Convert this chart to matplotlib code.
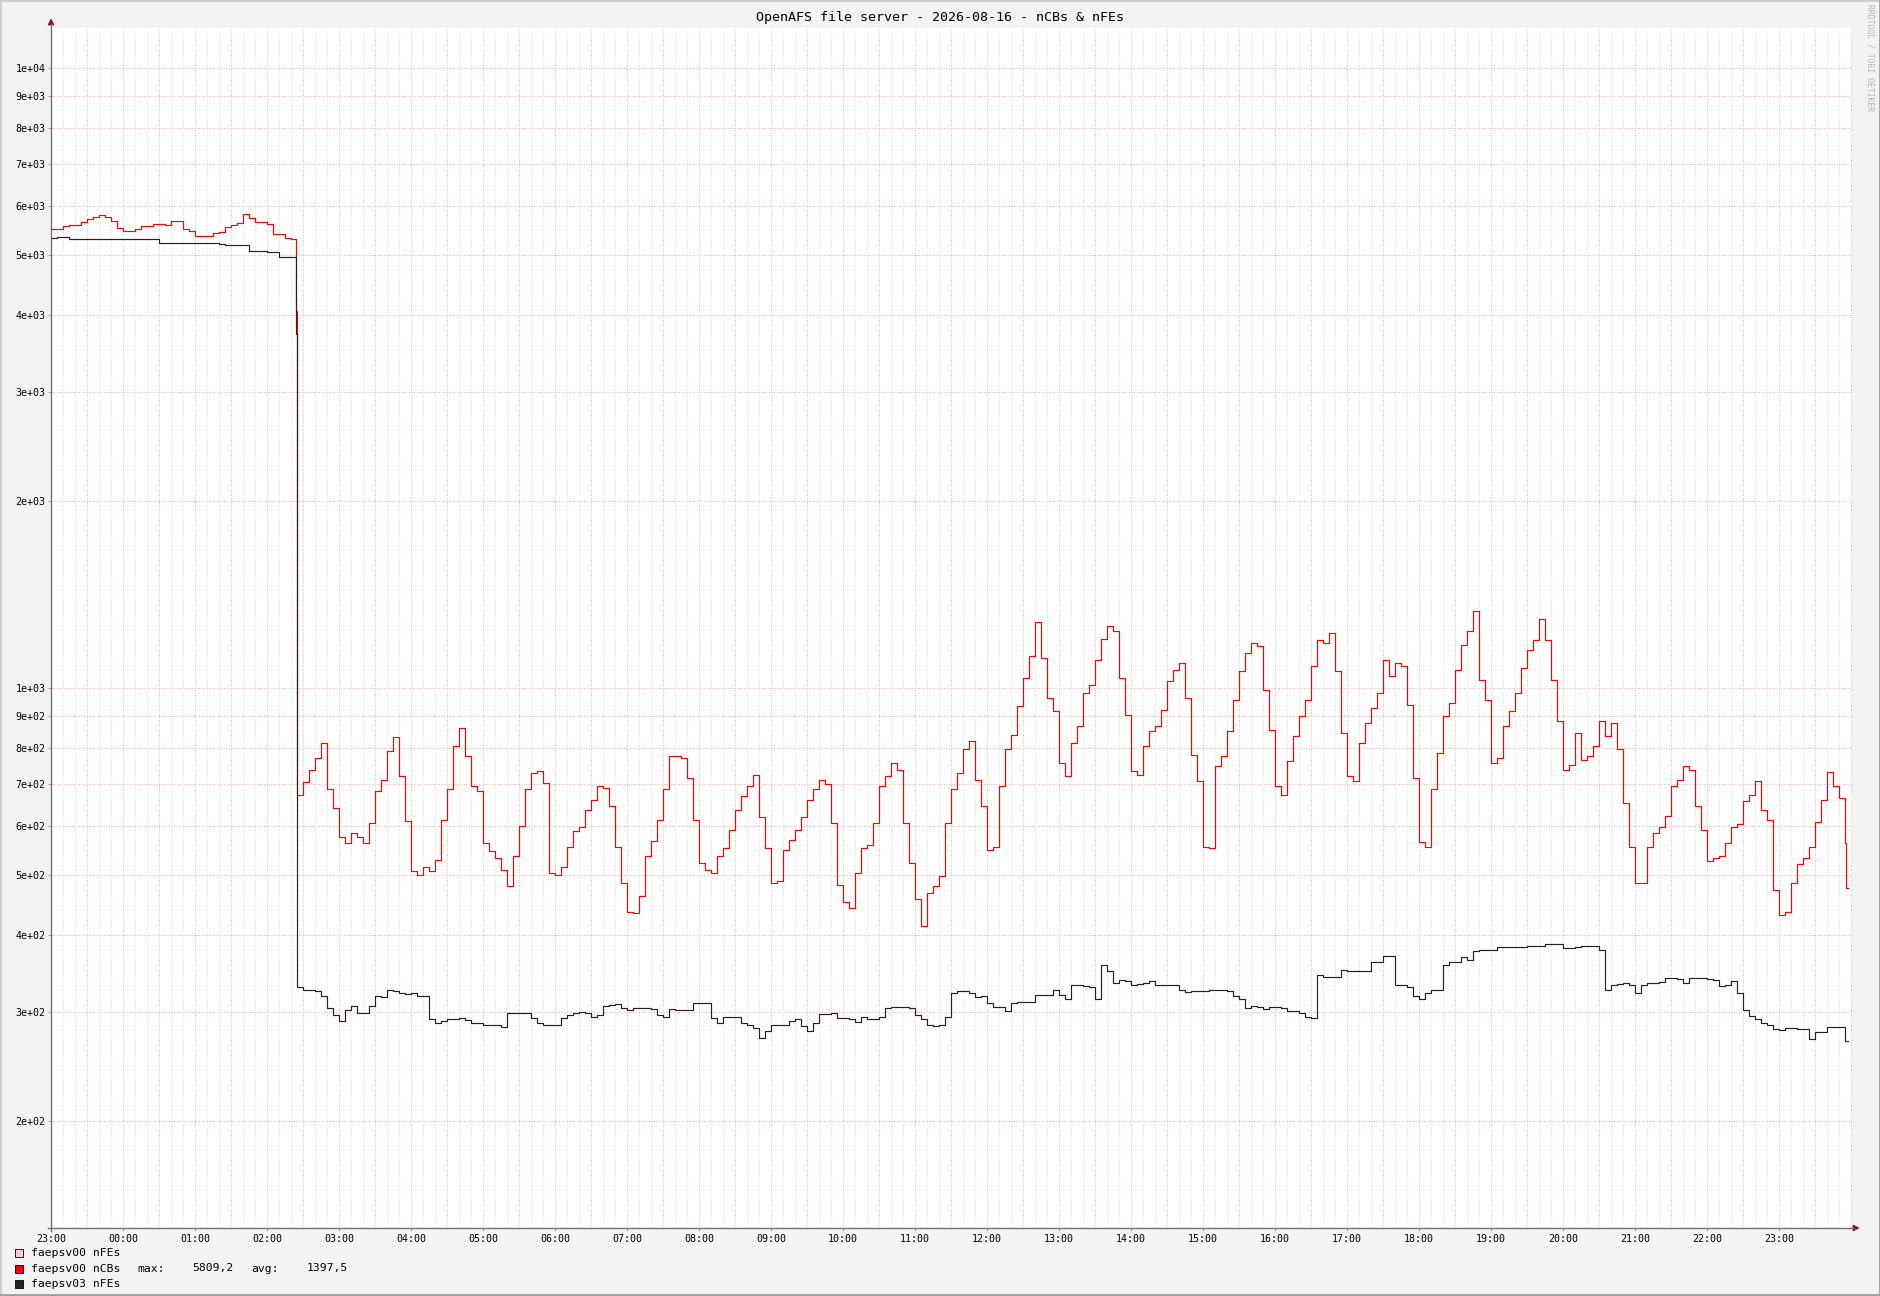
import numpy as np
import matplotlib.pyplot as plt
from matplotlib.lines import Line2D
from matplotlib.patches import Rectangle, Polygon

W, H = 1881, 1296
plt.rcParams['font.family'] = ['DejaVu Sans Mono']

title = 'OpenAFS file server - 2026-08-16 - nCBs & nFEs'
hour_labels = ['23:00', '00:00', '01:00', '02:00', '03:00', '04:00', '05:00', '06:00',
               '07:00', '08:00', '09:00', '10:00', '11:00', '12:00', '13:00', '14:00',
               '15:00', '16:00', '17:00', '18:00', '19:00', '20:00', '21:00', '22:00', '23:00']
y_ticks = [200, 300, 400, 500, 600, 700, 800, 900,
           1000, 2000, 3000, 4000, 5000, 6000, 7000, 8000, 9000, 10000]

# minutes since 23:00, 5 min samples before the restart (00:00 .. 02:20)
ncbs_before = [5507, 5507, 5568, 5580, 5590, 5646, 5700, 5760, 5790, 5740, 5660, 5520,
               5450, 5460, 5490, 5560, 5560, 5600, 5610, 5590, 5670, 5670, 5490, 5450,
               5360, 5350, 5360, 5420, 5440, 5540, 5580, 5620, 5809, 5730, 5640, 5640,
               5600, 5400, 5400, 5320, 5290]
nfes_before = [5316, 5330, 5330, 5300, 5300, 5300, 5300, 5300, 5300, 5290, 5290, 5290,
               5290, 5290, 5290, 5290, 5290, 5290, 5230, 5230, 5230, 5230, 5230, 5230,
               5230, 5230, 5230, 5230, 5200, 5190, 5190, 5190, 5190, 5060, 5060, 5060,
               5040, 5040, 4960, 4960, 4960]
# the drop sample
ncbs_drop = 4050
nfes_drop = 3720
# after restart, 5 min samples from minute 205
ncbs_after = [673, 705, 738, 771, 815, 686, 640, 576, 562, 584, 576, 562,
              606, 681, 711, 790, 834, 720, 610, 506, 500, 515, 506, 528,
              613, 686, 805, 862, 776, 694, 681, 562, 545, 532, 509, 479,
              535, 598, 686, 729, 734, 703, 503, 500, 515, 555, 587, 597,
              636, 660, 694, 690, 644, 555, 484, 436, 434, 462, 535, 566,
              613, 686, 776, 776, 771, 716, 613, 522, 508, 503, 535, 552,
              591, 636, 669, 694, 724, 620, 552, 485, 488, 548, 569, 591,
              620, 660, 686, 710, 699, 606, 482, 451, 442, 503, 552, 559,
              606, 694, 720, 757, 738, 606, 522, 457, 413, 467, 479, 497,
              606, 686, 729, 796, 820, 711, 644, 548, 555, 694, 796, 841,
              934, 1038, 1125, 1280, 1118, 963, 917, 757, 720, 815, 867, 982,
              1012, 1111, 1200, 1260, 1234, 1038, 906, 734, 725, 805, 851, 867,
              923, 1025, 1070, 1097, 963, 781, 707, 555, 552, 748, 776, 851,
              958, 1064, 1139, 1182, 1167, 994, 857, 694, 671, 762, 836, 900,
              958, 1084, 1197, 1182, 1227, 1064, 846, 720, 707, 815, 878, 929,
              982, 1111, 1044, 1097, 1084, 940, 716, 565, 555, 686, 786, 900,
              946, 1070, 1175, 1234, 1330, 1031, 958, 757, 771, 867, 917, 982,
              1077, 1153, 1197, 1290, 1197, 1031, 884, 738, 752, 846, 766, 776,
              805, 884, 836, 878, 796, 652, 555, 485, 485, 555, 584, 597,
              621, 694, 711, 748, 738, 644, 591, 525, 532, 535, 562, 596,
              603, 657, 673, 707, 636, 613, 473, 431, 435, 485, 521, 532,
              555, 609, 660, 731, 694, 665, 562]
nfes_after = [330, 326, 326, 324, 319, 305, 297, 290, 303, 307, 299, 299,
              307, 319, 317, 326, 324, 322, 321, 322, 318, 318, 292, 288,
              290, 292, 292, 294, 291, 288, 288, 286, 286, 286, 284, 299,
              299, 299, 299, 294, 288, 286, 286, 286, 294, 297, 299, 300,
              299, 295, 297, 307, 308, 309, 305, 303, 305, 305, 305, 304,
              297, 295, 304, 302, 302, 302, 310, 310, 310, 294, 288, 295,
              295, 295, 288, 286, 283, 273, 280, 286, 286, 286, 290, 292,
              285, 280, 288, 298, 298, 299, 294, 294, 292, 289, 295, 292,
              292, 295, 305, 306, 306, 306, 305, 297, 292, 286, 285, 286,
              295, 322, 324, 324, 322, 317, 319, 310, 306, 306, 301, 310,
              311, 311, 311, 320, 320, 320, 326, 320, 315, 332, 332, 331,
              330, 315, 358, 349, 334, 338, 337, 332, 333, 334, 337, 332,
              332, 332, 332, 326, 323, 324, 324, 324, 326, 326, 326, 324,
              318, 315, 305, 307, 306, 304, 306, 306, 305, 301, 301, 299,
              295, 294, 344, 342, 342, 342, 351, 349, 350, 350, 350, 362,
              362, 369, 369, 332, 332, 330, 318, 315, 322, 326, 326, 358,
              362, 362, 368, 364, 376, 378, 378, 378, 382, 382, 382, 382,
              382, 384, 384, 384, 387, 387, 387, 381, 381, 382, 383, 383,
              383, 378, 326, 332, 333, 334, 332, 322, 332, 334, 334, 335,
              340, 340, 339, 334, 340, 340, 340, 339, 338, 331, 332, 337,
              322, 302, 296, 292, 288, 286, 282, 281, 283, 283, 282, 282,
              272, 279, 279, 284, 284, 284, 270]
ncbs_tail = [475, 475]
nfes_tail = [270, 270]

ncbs_max = '5809,2'
ncbs_avg = '1397,5'

t = np.concatenate([np.arange(0, 201, 5), [204], 205 + 5 * np.arange(len(ncbs_after)), [1496, 1498]])
ncbs = np.array(ncbs_before + [ncbs_drop] + ncbs_after + ncbs_tail, dtype=float)
nfes = np.array(nfes_before + [nfes_drop] + nfes_after + nfes_tail, dtype=float)


def fx(x):
    return x / W


def fy(y):
    return 1 - y / H


fig = plt.figure(figsize=(W / 100, H / 100), dpi=100, facecolor='#f3f3f3')
ax = fig.add_axes([fx(51), fy(1228), fx(1852) - fx(51), fy(28) - fy(1228)])
ax.set_facecolor('white')

minor_col = '#e0e0e0'
major_col = '#f2b8b8'
dot = (0, (1, 1.5))
for m in range(10, 1501, 10):
    ax.axvline(m, color=major_col if m % 30 == 0 else minor_col, lw=0.72, ls=dot, zorder=1)
for v in y_ticks:
    ax.axhline(v, color=major_col, lw=0.72, ls=dot, zorder=1)

ax.plot(t, ncbs, color='#ff0000', lw=0.85, drawstyle='steps-post', zorder=3)
ax.plot(t, nfes, color='#2a1e1e', lw=0.85, drawstyle='steps-post', zorder=4)

ax.set_yscale('log')
ax.set_xlim(0, 1501)
ax.set_ylim(134.6, 11600)
ax.set_yticks(y_ticks)
ax.set_yticklabels([f'{v:.0e}' for v in y_ticks])
ax.yaxis.set_minor_locator(plt.NullLocator())
ax.set_xticks(np.arange(len(hour_labels)) * 60)
ax.set_xticklabels(hour_labels)
ax.tick_params(axis='both', length=2.2, width=0.7, color='#d08c8c', labelsize=7.2, pad=1.8)
for s in ax.spines.values():
    s.set_visible(False)

# axes with arrow heads
axis_col = '#707070'
arrow_col = '#8b1212'
fig.add_artist(Line2D([fx(51), fx(51)], [fy(1231), fy(24)], color=axis_col, lw=1.0))
fig.add_artist(Line2D([fx(48), fx(1854)], [fy(1228), fy(1228)], color=axis_col, lw=1.0))
fig.add_artist(Polygon([[fx(51), fy(19)], [fx(48), fy(25)], [fx(54), fy(25)]], closed=True,
                       facecolor=arrow_col, edgecolor=arrow_col, lw=0.5))
fig.add_artist(Polygon([[fx(1859), fy(1228)], [fx(1853), fy(1225)], [fx(1853), fy(1231)]], closed=True,
                       facecolor=arrow_col, edgecolor=arrow_col, lw=0.5))

fig.text(0.5, fy(18), title, ha='center', va='center', fontsize=9.6)
fig.text(fx(1870), fy(58), 'RRDTOOL / TOBI OETIKER', rotation=270, ha='center', va='center',
         fontsize=5.8, color='#b4b4b4')

# legend
legend = [('faepsv00 nFEs', '#ffcccc'), ('faepsv00 nCBs', '#ff0000'), ('faepsv03 nFEs', '#2d2020')]
for i, (lab, col) in enumerate(legend):
    yc = 1253 + 15.5 * i
    fig.add_artist(Rectangle((fx(15), fy(yc + 4)), 8 / W, 8 / H, facecolor=col,
                             edgecolor='#000000', lw=0.6))
    fig.text(fx(31), fy(yc), lab, ha='left', va='center', fontsize=8.2)
yc = 1253 + 15.5
fig.text(fx(137), fy(yc), 'max:', ha='left', va='center', fontsize=8.2)
fig.text(fx(234), fy(yc), ncbs_max, ha='right', va='center', fontsize=8.2)
fig.text(fx(251), fy(yc), 'avg:', ha='left', va='center', fontsize=8.2)
fig.text(fx(348), fy(yc), ncbs_avg, ha='right', va='center', fontsize=8.2)

# frame shading
fig.add_artist(Line2D([0, 1], [fy(1), fy(1)], color='#d0d0d0', lw=1.5))
fig.add_artist(Line2D([fx(1), fx(1)], [0, 1], color='#d0d0d0', lw=1.5))
fig.add_artist(Line2D([fx(1880), fx(1880)], [0, 1], color='#9e9e9e', lw=2))
fig.add_artist(Line2D([0, 1], [fy(1295), fy(1295)], color='#9e9e9e', lw=2))

fig.savefig('out.png', dpi=100, facecolor=fig.get_facecolor())
